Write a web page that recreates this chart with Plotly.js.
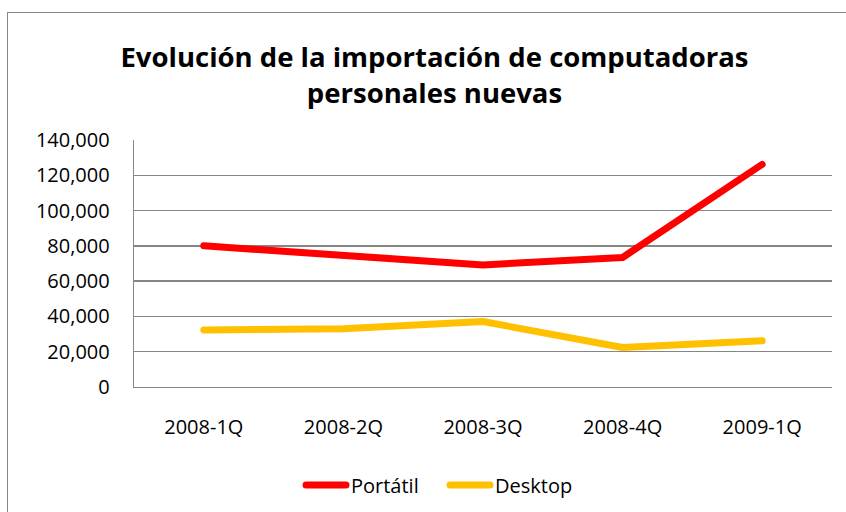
<!DOCTYPE html>
<html>
<head>
<meta charset="utf-8">
<script src="https://cdn.plot.ly/plotly-3.0.1.min.js"></script>
<style>
  html, body { margin: 0; padding: 0; background: #ffffff; }
  #frame { position: absolute; left: 7px; top: 12px; width: 900px; height: 600px;
           border-left: 1px solid #868686; border-top: 1px solid #868686; }
  #chart { position: absolute; left: 0; top: 0; width: 846px; height: 512px; }
  #chart .scatterlayer .js-line, #chart .legend .js-line { stroke-linecap: round; stroke-linejoin: round; }
</style>
</head>
<body>
<div id="frame"></div>
<div id="chart"></div>
<script>
const categories = ["2008-1Q", "2008-2Q", "2008-3Q", "2008-4Q", "2009-1Q"];
const portatil = [80000, 74500, 69200, 73400, 126200];
const desktop = [32300, 33000, 37100, 22400, 26200];
const yTicks = [0, 20000, 40000, 60000, 80000, 100000, 120000, 140000];
const yTickLabels = ["0", "20,000", "40,000", "60,000", "80,000", "100,000", "120,000", "140,000"];
const seriesNames = ["Portátil", "Desktop"];

const baseFont = "Open Sans, Noto Sans, sans-serif";
const traces = [
  { x: categories, y: portatil, name: seriesNames[0], type: "scatter", mode: "lines",
    line: { color: "#ff0000", width: 7 } },
  { x: categories, y: desktop, name: seriesNames[1], type: "scatter", mode: "lines",
    line: { color: "#ffc000", width: 7 } }
];

const layout = {
  width: 846, height: 512,
  paper_bgcolor: "rgba(0,0,0,0)", plot_bgcolor: "rgba(0,0,0,0)",
  margin: { l: 134, r: 14, t: 140, b: 125 },
  font: { family: baseFont, size: 20, color: "#000000" },
  title: {
    text: "Evolución de la importación de computadoras<br>personales nuevas",
    font: { family: baseFont, size: 27.5, weight: "bold", color: "#000000" },
    x: 434.5 / 846, xref: "container", xanchor: "center",
    y: 1 - 67 / 512, yref: "container", yanchor: "middle"
  },
  xaxis: {
    type: "category", range: [-0.5, 4.5],
    showgrid: false, showline: true, linecolor: "#868686", linewidth: 1.3,
    ticks: "", ticklabelstandoff: 22, tickfont: { size: 20 }
  },
  yaxis: {
    range: [0, 140000], tickmode: "array", tickvals: yTicks, ticktext: yTickLabels,
    showgrid: true, gridcolor: "#868686", gridwidth: 1.3,
    showline: true, linecolor: "#868686", linewidth: 1.3, zeroline: false,
    ticks: "", ticklabelstandoff: 19, tickfont: { size: 20 }
  },
  legend: {
    orientation: "h", xref: "container", yref: "container",
    x: 445 / 846, xanchor: "center", y: 1 - 485 / 512, yanchor: "middle",
    font: { size: 20 }, itemwidth: 40, entrywidth: 89, bgcolor: "rgba(0,0,0,0)"
  },
  showlegend: true
};

Plotly.newPlot("chart", traces, layout, { displayModeBar: false, staticPlot: true });
</script>
</body>
</html>
